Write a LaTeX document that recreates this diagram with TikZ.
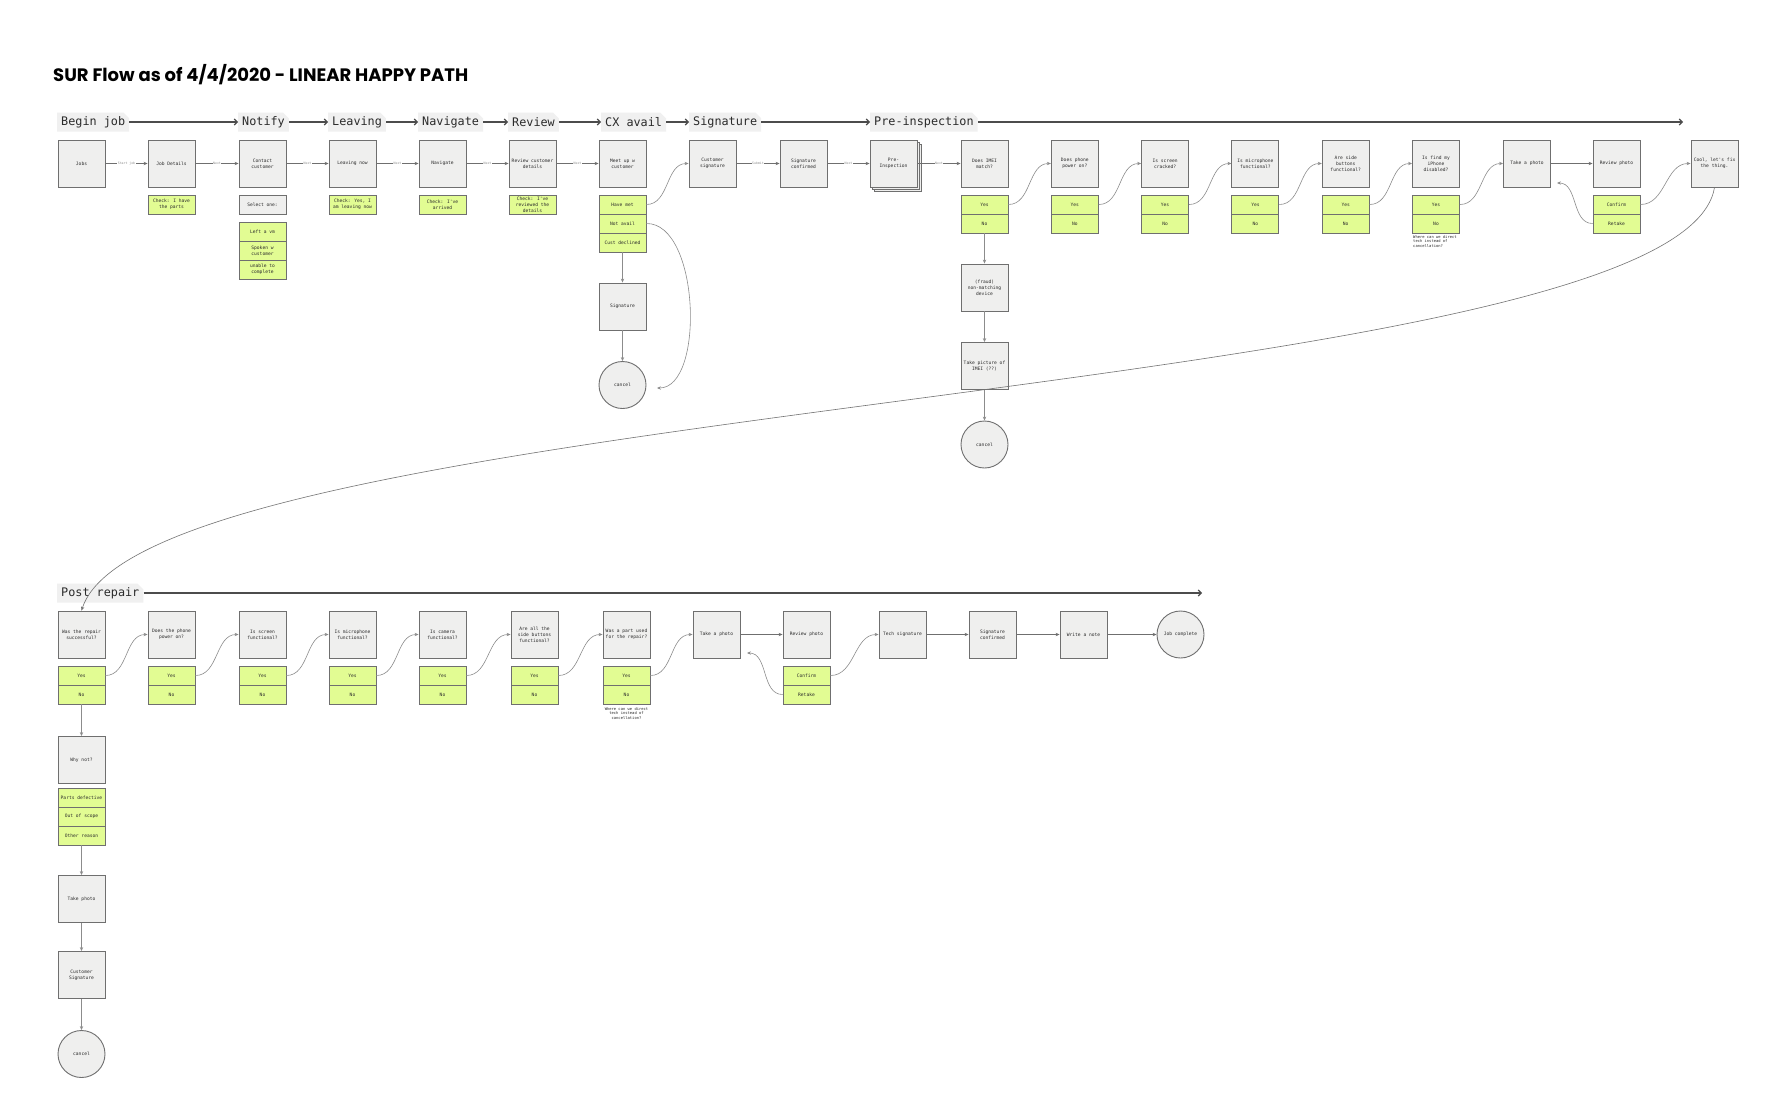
\documentclass[tikz,border=0pt]{standalone}
\usepackage{fontspec}
\newfontfamily\monofont{DejaVu Sans Mono}
\newfontfamily\titlefont{Poppins}
\usetikzlibrary{arrows.meta,shapes.misc,shadows}

\definecolor{boxgray}{HTML}{EFEFEE}
\definecolor{edgegray}{HTML}{6F6F6F}
\definecolor{limecell}{HTML}{E2FC93}
\definecolor{tabgray}{HTML}{F0F0F0}
\definecolor{wiregray}{HTML}{8C8C8C}
\definecolor{ink}{HTML}{2B2B2B}

\newcommand{\boxfont}{\monofont\fontsize{4.6}{6}\selectfont}
\newcommand{\notefont}{\monofont\fontsize{3.8}{4.6}\selectfont}
\newcommand{\lblfont}{\monofont\fontsize{3.2}{3.6}\selectfont}
\newcommand{\phasefont}{\monofont\fontsize{11.8}{14}\selectfont}

\begin{document}
\begin{tikzpicture}[x=1pt, y=1pt,
  scrbox/.style={rectangle, draw=edgegray, line width=0.9pt, fill=boxgray,
                 minimum width=47pt, minimum height=47pt, inner sep=1pt,
                 font=\boxfont, text=ink, align=center},
  optcell/.style={rectangle, draw=edgegray, line width=0.9pt, fill=limecell,
                  minimum width=47pt, minimum height=19pt, inner sep=0.5pt,
                  font=\boxfont, text=ink, align=center},
  endcirc/.style={circle, draw=edgegray, line width=0.9pt, fill=boxgray,
                  minimum size=47pt, inner sep=0pt, font=\boxfont, text=ink},
  phasetab/.style={chamfered rectangle, chamfered rectangle corners=north east,
                   chamfered rectangle xsep=3pt, fill=tabgray, minimum height=19pt,
                   inner xsep=1pt, inner ysep=0pt, font=\phasefont, text=ink, anchor=west},
  lanearrow/.style={-{Straight Barb[length=3pt,width=6pt]}, line width=1.1pt, draw=black!70},
  flowline/.style={-{Stealth[length=4pt,width=3.4pt]}, line width=0.6pt, draw=wiregray},
  edgetag/.style={fill=white, inner sep=0.6pt, font=\lblfont, text=wiregray},
  sidenote/.style={font=\notefont, text=ink, inner sep=0pt}
]

\fill[white] (0,0) rectangle (1780,-1111);
\useasboundingbox (0,0) rectangle (1780,-1111);

\node[anchor=base west, inner sep=0pt, font=\titlefont\bfseries\fontsize{18}{20}\selectfont]
  (title) at (53,-81) {SUR Flow as of 4/4/2020 - LINEAR HAPPY PATH};

% phases, top lane
\node[phasetab] (pbegin) at (57,-122)  {Begin job};
\node[phasetab] (pnotify) at (238,-122) {Notify};
\node[phasetab] (pleave) at (328,-122) {Leaving};
\node[phasetab] (pnav)   at (418,-122) {Navigate};
\node[phasetab] (prev)   at (508,-122) {Review};
\node[phasetab] (pcx)    at (601,-122) {CX avail};
\node[phasetab] (psig)   at (689,-122) {Signature};
\node[phasetab] (ppre)   at (870,-122) {Pre-inspection};
\coordinate (preend) at (1683,-122);

\draw[lanearrow] (pbegin.east) -- (pnotify.west);
\draw[lanearrow] (pnotify.east) -- (pleave.west);
\draw[lanearrow] (pleave.east) -- (pnav.west);
\draw[lanearrow] (pnav.east) -- (prev.west);
\draw[lanearrow] (prev.east) -- (pcx.west);
\draw[lanearrow] (pcx.east) -- (psig.west);
\draw[lanearrow] (psig.east) -- (ppre.west);
\draw[lanearrow] (ppre.east) -- (preend);

% screens, top row
\node[scrbox] (jobs)     at (81.5,-163.5)  {Jobs};
\node[scrbox] (jdet)     at (171.5,-163.5) {Job Details};
\node[scrbox] (contact)  at (262.5,-163.5) {Contact\\customer};
\node[scrbox] (leavenow) at (352.5,-163.5) {Leaving now};
\node[scrbox] (navi)     at (442.5,-163.5) {Navigate};
\node[scrbox] (revcust)  at (532.5,-163.5) {Review customer\\details};
\node[scrbox] (meetup)   at (622.5,-163.5) {Meet up w\\customer};
\node[scrbox] (custsig)  at (712.5,-163.5) {Customer\\signature};
\node[scrbox] (sigconf)  at (803.5,-163.5) {Signature\\confirmed};
\node[scrbox, double copy shadow={shadow xshift=2pt, shadow yshift=-2pt,
      draw=edgegray, fill=boxgray}]
              (preinsp)  at (893.5,-163.5) {Pre-\\Inspection};

\draw[flowline, draw=edgegray] (jobs) -- node[edgetag] {Start job} (jdet);
\draw[flowline, draw=edgegray] (jdet) -- node[edgetag] {Next} (contact);
\draw[flowline, draw=edgegray] (contact) -- node[edgetag] {Next} (leavenow);
\draw[flowline, draw=edgegray] (leavenow) -- node[edgetag] {Next} (navi);
\draw[flowline, draw=edgegray] (navi) -- node[edgetag] {Next} (revcust);
\draw[flowline, draw=edgegray] (revcust) -- node[edgetag] {Next} (meetup);
\draw[flowline, draw=edgegray] (custsig) -- node[edgetag] {Submit} (sigconf);
\draw[flowline, draw=edgegray] (sigconf) -- node[edgetag] {Next} (preinsp);

% checks and options
\node[optcell] (chkparts) at (171.5,-204.5) {Check: I have\\the parts};
\node[optcell, fill=boxgray] (selone) at (262.5,-204.5) {Select one:};
\node[optcell] (leftvm)   at (262.5,-231.5) {Left a vm};
\node[optcell] (spoken)   at (262.5,-250.5) {Spoken w\\customer};
\node[optcell] (unable)   at (262.5,-269.5) {unable to\\complete};
\node[optcell] (chkleave) at (352.5,-204.5) {Check: Yes, I\\am leaving now};
\node[optcell] (chkarr)   at (442.5,-204.5) {Check: I've\\arrived};
\node[optcell] (chkrev)   at (532.5,-204.5) {Check: I've\\reviewed the\\details};
\node[optcell] (havemet)  at (622.5,-204.5) {Have met};
\node[optcell] (notavail) at (622.5,-223.5) {Not avail};
\node[optcell] (declined) at (622.5,-242.5) {Cust declined};

\node[scrbox]  (sigbox)  at (622.5,-306.5) {Signature};
\node[endcirc] (cancel1) at (622.5,-385)   {cancel};
\coordinate (naend) at (657,-388);

\draw[flowline] (havemet.east) to[out=0, in=180] (custsig.west);
\draw[flowline] (declined) -- (sigbox);
\draw[flowline] (sigbox) -- (cancel1);
\draw[flowline] (notavail.east) .. controls (700,-223) and (705,-388) .. (naend);

% pre-inspection questions
\foreach \n/\x/\t in {1/984.5/{Does IMEI\\match?}, 2/1074.8/{Does phone\\power on?},
                      3/1165.1/{Is screen\\cracked?}, 4/1255.4/{Is microphone\\functional?},
                      5/1345.7/{Are side\\buttons\\functional?}, 6/1436/{Is find my\\iPhone\\disabled?}} {
  \node[scrbox]  (q\n)  at (\x,-163.5) {\t};
  \node[optcell] (qy\n) at (\x,-204.5) {Yes};
  \node[optcell] (qn\n) at (\x,-223.5) {No};
}
\node[scrbox] (takeph) at (1527,-163.5)  {Take a photo};
\node[scrbox] (revph)  at (1616.5,-163.5) {Review photo};
\node[scrbox] (cool)   at (1714.5,-163.5) {Cool, let's fix\\the thing.};
\node[optcell] (confirm) at (1616.5,-204.5) {Confirm};
\node[optcell] (retake)  at (1616.5,-223.5) {Retake};
\coordinate (retend) at (1557,-183);

\node[sidenote, anchor=north west, align=left] (note1) at (1413,-235)
  {Where can we direct\\tech instead of\\cancellation?};

\node[scrbox]  (fraud)   at (984.5,-287.5) {(fraud)\\non-matching\\device};
\node[scrbox]  (imeipic) at (984.5,-366)   {Take picture of\\IMEI (??)};
\node[endcirc] (cancel2) at (984.5,-444.5) {cancel};

\draw[flowline, draw=edgegray] (preinsp) -- node[edgetag] {Next} (q1);
\foreach \a/\b in {1/2, 2/3, 3/4, 4/5, 5/6}
  \draw[flowline] (qy\a.east) to[out=0, in=180] (q\b.west);
\draw[flowline] (qy6.east) to[out=0, in=180] (takeph.west);
\draw[flowline, draw=edgegray] (takeph) -- (revph);
\draw[flowline] (retake.west) to[out=180, in=0] (retend);
\draw[flowline] (confirm.east) to[out=0, in=180] (cool.west);
\draw[flowline] (qn1) -- (fraud);
\draw[flowline] (fraud) -- (imeipic);
\draw[flowline] (imeipic) -- (cancel2);

% post repair lane
\node[phasetab] (ppost) at (57,-593) {Post repair};
\coordinate (postend) at (1202,-593);
\draw[lanearrow] (ppost.east) -- (postend);

\foreach \n/\x/\t in {1/81.5/{Was the repair\\successful?}, 2/171.5/{Does the phone\\power on?},
                      3/262.5/{Is screen\\functional?}, 4/352.5/{Is microphone\\functional?},
                      5/442.5/{Is camera\\functional?}, 6/534.5/{Are all the\\side buttons\\functional?},
                      7/626.5/{Was a part used\\for the repair?}} {
  \node[scrbox]  (r\n)  at (\x,-634.5) {\t};
  \node[optcell] (ry\n) at (\x,-675.5) {Yes};
  \node[optcell] (rn\n) at (\x,-694.5) {No};
}
\node[scrbox]  (rtake)    at (716.5,-634.5)  {Take a photo};
\node[scrbox]  (rrev)     at (806.5,-634.5)  {Review photo};
\node[scrbox]  (techsig)  at (902.5,-634.5)  {Tech signature};
\node[scrbox]  (rsigconf) at (992.5,-634.5)  {Signature\\confirmed};
\node[scrbox]  (wnote)    at (1083.5,-634.5) {Write a note};
\node[endcirc] (jobdone)  at (1180.5,-634.5) {Job complete};
\node[optcell] (rconfirm) at (806.5,-675.5) {Confirm};
\node[optcell] (rretake)  at (806.5,-694.5) {Retake};
\coordinate (rretend) at (747,-653);

\node[sidenote, anchor=north, align=center] (note2) at (626.5,-707)
  {Where can we direct\\tech instead of\\cancellation?};

\foreach \a/\b in {1/2, 2/3, 3/4, 4/5, 5/6, 6/7}
  \draw[flowline] (ry\a.east) to[out=0, in=180] (r\b.west);
\draw[flowline] (ry7.east) to[out=0, in=180] (rtake.west);
\draw[flowline, draw=edgegray] (rtake) -- (rrev);
\draw[flowline] (rretake.west) to[out=180, in=0] (rretend);
\draw[flowline] (rconfirm.east) to[out=0, in=180] (techsig.west);
\draw[flowline, draw=edgegray] (techsig) -- (rsigconf);
\draw[flowline, draw=edgegray] (rsigconf) -- (wnote);
\draw[flowline, draw=edgegray] (wnote) -- (jobdone);

% repair failed column
\node[scrbox]  (whynot) at (81.5,-760)   {Why not?};
\node[optcell] (parts)  at (81.5,-797.5) {Parts defective};
\node[optcell] (scope)  at (81.5,-816.5) {Out of scope};
\node[optcell] (other)  at (81.5,-835.5) {Other reason};
\node[scrbox]  (tphoto) at (81.5,-899)   {Take photo};
\node[scrbox]  (csig)   at (81.5,-975)   {Customer\\Signature};
\node[endcirc] (cancel3) at (81.5,-1054) {cancel};

\draw[flowline] (rn1) -- (whynot);
\draw[flowline] (other) -- (tphoto);
\draw[flowline] (tphoto) -- (csig);
\draw[flowline] (csig) -- (cancel3);

% from pre-inspection to post repair
\draw[flowline, draw=black!55] (cool.south) .. controls (1680,-400) and (150,-400) .. (r1.north);

\end{tikzpicture}
\end{document}
